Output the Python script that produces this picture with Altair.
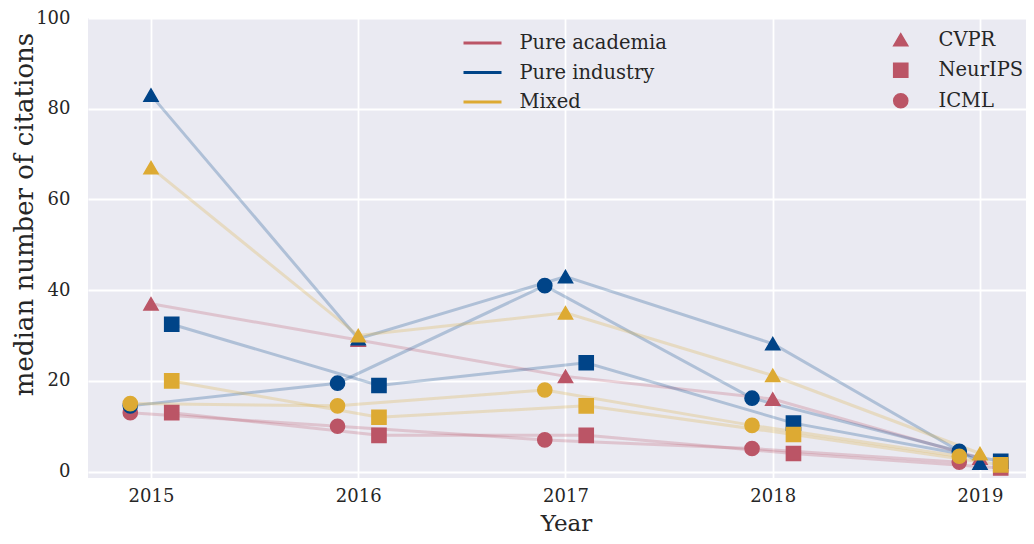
import altair as alt
import pandas as pd

years = [2015, 2016, 2017, 2018, 2019]
groups = ["Pure academia", "Pure industry", "Mixed"]
venues = ["CVPR", "NeurIPS", "ICML"]
venue_offsets = [0.0, 0.1, -0.1]
colors = ["#BB5566", "#004488", "#DDAA33"]

# median citations per year
academia_cvpr = [37, 29, 21, 16, 3]
academia_neurips = [13, 8, 8, 4, 0.8]
academia_icml = [13, 10, 7, 5.1, 2.1]
industry_cvpr = [83, 29.3, 43, 28.2, 1.9]
industry_neurips = [32.5, 19, 24, 10.7, 2.3]
industry_icml = [14.5, 19.5, 41, 16.2, 4.5]
mixed_cvpr = [67, 30, 35, 21.2, 4]
mixed_neurips = [20, 12, 14.5, 8.2, 1.5]
mixed_icml = [15, 14.5, 18, 10.2, 3.4]

series = {
    ("Pure academia", "CVPR"): academia_cvpr,
    ("Pure academia", "NeurIPS"): academia_neurips,
    ("Pure academia", "ICML"): academia_icml,
    ("Pure industry", "CVPR"): industry_cvpr,
    ("Pure industry", "NeurIPS"): industry_neurips,
    ("Pure industry", "ICML"): industry_icml,
    ("Mixed", "CVPR"): mixed_cvpr,
    ("Mixed", "NeurIPS"): mixed_neurips,
    ("Mixed", "ICML"): mixed_icml,
}

rows = []
for g in groups:
    for v, off in zip(venues, venue_offsets):
        for yr, val in zip(years, series[(g, v)]):
            rows.append({"group": g, "venue": v, "year": yr + off, "value": val})
df = pd.DataFrame(rows)

FONT = "DejaVu Serif"
TXT = "#262626"

x_enc = alt.X("year:Q", scale=alt.Scale(domain=[2014.696, 2019.222], nice=False, zero=False),
              axis=alt.Axis(values=years, format="d", title="Year", titleX=478, titleY=52.5,
                            titleBaseline="alphabetic", titleFontSize=23, titleFontWeight="normal",
                            labelFontSize=18, labelPadding=9, ticks=False, domain=False,
                            gridColor="white", gridWidth=1.8, gridOpacity=1))
y_enc = alt.Y("value:Q", scale=alt.Scale(domain=[-1.4, 100], nice=False, zero=False),
              axis=alt.Axis(values=[0, 20, 40, 60, 80, 100], title="median number of citations",
                            titleFontSize=26, titleFontWeight="normal", titleX=-56, titleY=196,
                            titleAngle=-90, titleBaseline="alphabetic", titleAlign="center",
                            labelFontSize=18, labelPadding=18, ticks=False, domain=False,
                            gridColor="white", gridWidth=1.8, gridOpacity=1))

color_scale = alt.Scale(domain=groups, range=colors)

lines = alt.Chart(df).mark_line(strokeWidth=3, opacity=0.25).encode(
    x=x_enc,
    y=y_enc,
    color=alt.Color("group:N", scale=color_scale, sort=groups,
                    legend=alt.Legend(title=None, orient="none", legendX=383.5, legendY=14,
                                      symbolType="M-2,0H2", symbolSize=361, symbolStrokeWidth=3,
                                      symbolOpacity=1, labelFontSize=19.5, labelOffset=26,
                                      rowPadding=8.5, padding=0, labelFont=FONT, labelColor=TXT)),
    detail="venue:N",
    order="year:Q",
)

points = alt.Chart(df).mark_point(filled=True, opacity=1, size=200, strokeWidth=1.5).encode(
    x=alt.X("year:Q"),
    y=alt.Y("value:Q"),
    color=alt.Color("group:N", scale=color_scale, legend=None),
    stroke=alt.Stroke("group:N", scale=color_scale, legend=None),
    shape=alt.Shape("venue:N", sort=venues,
                    scale=alt.Scale(domain=venues, range=["triangle-up", "square", "circle"]),
                    legend=alt.Legend(title=None, orient="none", legendX=803, legendY=12,
                                      symbolSize=200, symbolFillColor="#BB5566",
                                      symbolStrokeColor="#BB5566", symbolOpacity=1,
                                      labelFontSize=19.5, labelOffset=28, rowPadding=9.5, padding=0,
                                      labelFont=FONT, labelColor=TXT)),
    fillOpacity=alt.FillOpacity("group:N", scale=alt.Scale(domain=groups, range=[1, 1, 0.5]),
                                legend=None),
    strokeOpacity=alt.StrokeOpacity("group:N", scale=alt.Scale(domain=groups, range=[1, 1, 0.6]),
                                    legend=None),
)

chart = alt.layer(lines, points).properties(
    width=938,
    height=460,
    autosize=alt.AutoSizeParams(type="none"),
    padding={"left": 80, "top": 10, "right": 0, "bottom": 58},
    background="white",
).configure_view(
    fill="#EAEAF2", stroke=None
).configure_axis(
    labelFont=FONT, titleFont=FONT, labelColor=TXT, titleColor=TXT
).configure_legend(
    labelFont=FONT
)

chart.save("out.html", embed_options={"renderer": "svg", "actions": False})
